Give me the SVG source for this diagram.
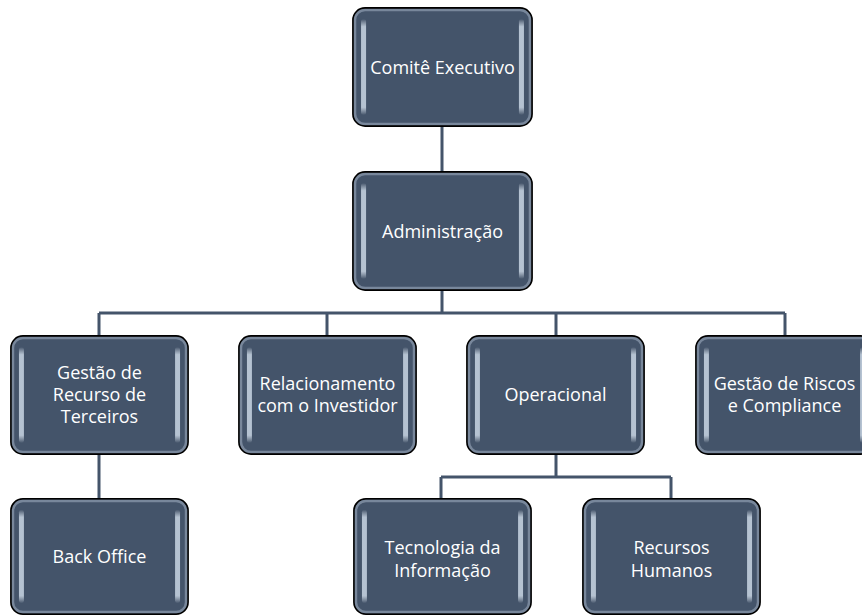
<svg xmlns="http://www.w3.org/2000/svg" width="862" height="616" viewBox="0 0 862 616">
<defs>
<linearGradient id="bar" x1="0" y1="0" x2="0" y2="1">
<stop offset="0" stop-color="#dfe8f2" stop-opacity="0"/>
<stop offset="0.08" stop-color="#c9d6e4" stop-opacity="0.85"/>
<stop offset="0.92" stop-color="#c9d6e4" stop-opacity="0.85"/>
<stop offset="1" stop-color="#dfe8f2" stop-opacity="0"/>
</linearGradient>
<symbol id="box" viewBox="0 0 180 120" preserveAspectRatio="none">
<rect x="1" y="1" width="178" height="118" rx="12" fill="#44546A" stroke="#000" stroke-width="1.8"/>
<rect x="3" y="3" width="174" height="114" rx="10" fill="none" stroke="#8e9db0" stroke-width="2.5" opacity="0.7"/>
<rect x="9" y="12" width="5" height="96" rx="2.5" fill="url(#bar)"/>
<rect x="166" y="12" width="5" height="96" rx="2.5" fill="url(#bar)"/>
</symbol>
<style>
text{font-family:"Open Sans","Liberation Sans",sans-serif;font-size:18px;fill:#fff;text-anchor:middle}
.c{fill:none;stroke:#44546A;stroke-width:3}
</style>
</defs>
<g id="connectors">
<path class="c" d="M442 127V171M442 291V313M99 313H785M99 313V335M327 313V335M556 313V335M785 313V335M99 455V498M556 455V477M441 477H671M441 477V498M671 477V498"/>
</g>
<g id="comite"><use href="#box" x="352" y="7" width="181" height="120"/><text x="442.5" y="74">Comitê Executivo</text></g>
<g id="administracao"><use href="#box" x="352" y="171" width="181" height="120"/><text x="442.5" y="238">Administração</text></g>
<g id="gestao-recurso"><use href="#box" x="10" y="335" width="179" height="120"/><text x="99.5" y="379">Gestão de</text><text x="99.5" y="401">Recurso de</text><text x="99.5" y="423">Terceiros</text></g>
<g id="relacionamento"><use href="#box" x="238" y="335" width="179" height="120"/><text x="327.5" y="390">Relacionamento</text><text x="327.5" y="412">com o Investidor</text></g>
<g id="operacional"><use href="#box" x="466" y="335" width="179" height="120"/><text x="555.5" y="401">Operacional</text></g>
<g id="gestao-riscos"><use href="#box" x="695" y="335" width="179" height="120"/><text x="784.5" y="390">Gestão de Riscos</text><text x="784.5" y="412">e Compliance</text></g>
<g id="back-office"><use href="#box" x="10" y="498" width="179" height="117"/><text x="99.5" y="563">Back Office</text></g>
<g id="tecnologia"><use href="#box" x="353" y="498" width="179" height="117"/><text x="442.5" y="554">Tecnologia da</text><text x="442.5" y="577">Informação</text></g>
<g id="recursos-humanos"><use href="#box" x="582" y="498" width="179" height="117"/><text x="671.5" y="554">Recursos</text><text x="671.5" y="577">Humanos</text></g>
</svg>
